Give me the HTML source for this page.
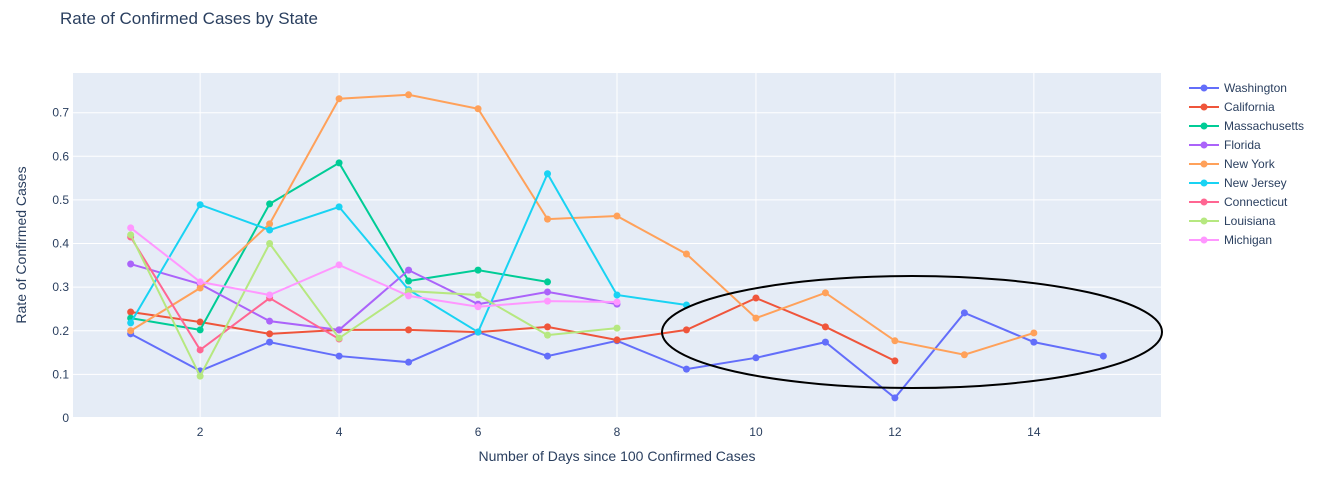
<!DOCTYPE html>
<html><head><meta charset="utf-8"><style>
body{margin:0;background:#fff;font-family:"Liberation Sans",sans-serif;}
svg text{font-family:"Liberation Sans",sans-serif;fill:#2a3f5f;}
</style></head><body>
<svg id="c" width="1325" height="489">
<text x="60" y="24" font-size="17">Rate of Confirmed Cases by State</text>
<rect x="73" y="73" width="1088" height="345" fill="#e5ecf6"/>
<g id="grid"></g><g id="lines"></g><g id="legend"></g>
<ellipse cx="912" cy="332" rx="250" ry="56" fill="none" stroke="#000" stroke-width="2"/>
<text x="617" y="461" font-size="14" text-anchor="middle">Number of Days since 100 Confirmed Cases</text>
<text transform="translate(26,245) rotate(-90)" font-size="14" text-anchor="middle">Rate of Confirmed Cases</text>
</svg>
<script>
const names=["Washington","California","Massachusetts","Florida","New York","New Jersey","Connecticut","Louisiana","Michigan"];
const colors=["#636efa","#EF553B","#00cc96","#ab63fa","#FFA15A","#19d3f3","#FF6692","#B6E880","#FF97FF"];
const washington=[0.193,0.108,0.174,0.142,0.128,0.197,0.142,0.177,0.112,0.138,0.174,0.046,0.241,0.174,0.142];
const california=[0.243,0.220,0.193,0.202,0.202,0.197,0.209,0.179,0.202,0.275,0.209,0.131];
const massachusetts=[0.229,0.202,0.491,0.585,0.314,0.339,0.312];
const florida=[0.353,0.307,0.222,0.202,0.339,0.261,0.289,0.261];
const newYork=[0.2,0.298,0.445,0.732,0.741,0.709,0.456,0.463,0.376,0.229,0.287,0.177,0.145,0.195];
const newJersey=[0.218,0.489,0.431,0.484,0.294,0.197,0.56,0.282,0.259];
const connecticut=[0.415,0.156,0.275,0.181];
const louisiana=[0.42,0.096,0.40,0.183,0.291,0.282,0.19,0.206];
const michigan=[0.436,0.312,0.282,0.351,0.28,0.255,0.268,0.266];
const series=[washington,california,massachusetts,florida,newYork,newJersey,connecticut,louisiana,michigan];
const xTicks=[2,4,6,8,10,12,14];
const yTicks=[0,0.1,0.2,0.3,0.4,0.5,0.6,0.7];
const X0=73,X1=1161,Y0=418,Y1=73,xmin=0.17,xmax=15.83,ymin=0,ymax=0.791;
const sx=v=>X0+(v-xmin)/(xmax-xmin)*(X1-X0);
const sy=v=>Y0-(v-ymin)/(ymax-ymin)*(Y0-Y1);
const NS="http://www.w3.org/2000/svg";
function mk(t,a,p){const e=document.createElementNS(NS,t);for(const k in a)e.setAttribute(k,a[k]);p.appendChild(e);return e;}
const g=document.getElementById('grid');
xTicks.forEach(t=>{
 const l=mk('line',{x1:sx(t),x2:sx(t),y1:Y1,y2:Y0,stroke:'#fff','stroke-width':1},g);
 
 
 const tx=mk('text',{x:sx(t),y:436,'font-size':12,'text-anchor':'middle'},g);tx.textContent=t;
 
 
});
yTicks.forEach(t=>{
 const l=mk('line',{x1:X0,x2:X1,y1:sy(t),y2:sy(t),stroke:'#fff','stroke-width':t===0?2:1},g);
 
 
 const tx=mk('text',{x:X0-4,y:sy(t)+4,'font-size':12,'text-anchor':'end'},g);tx.textContent=t;
 
 
});
const L=document.getElementById('lines'),Lg=document.getElementById('legend');
series.forEach((s,i)=>{
 const grp=mk('g',{},L);
 
 
 mk('polyline',{points:s.map((v,j)=>sx(j+1)+','+sy(v)).join(' '),fill:'none',stroke:colors[i],'stroke-width':2},grp);
 s.forEach((v,j)=>{
  const c=mk('circle',{cx:sx(j+1),cy:sy(v),r:3.5,fill:colors[i]},grp);
  
  
 });
 const y=88+i*19;
 const le=mk('g',{},Lg);
 
 
 mk('line',{x1:1189,x2:1219,y1:y,y2:y,stroke:colors[i],'stroke-width':2},le);
 mk('circle',{cx:1204,cy:y,r:3.5,fill:colors[i]},le);
 const t=mk('text',{x:1224,y:y+4,'font-size':12},le);t.textContent=names[i];
});
</script>
</body></html>
